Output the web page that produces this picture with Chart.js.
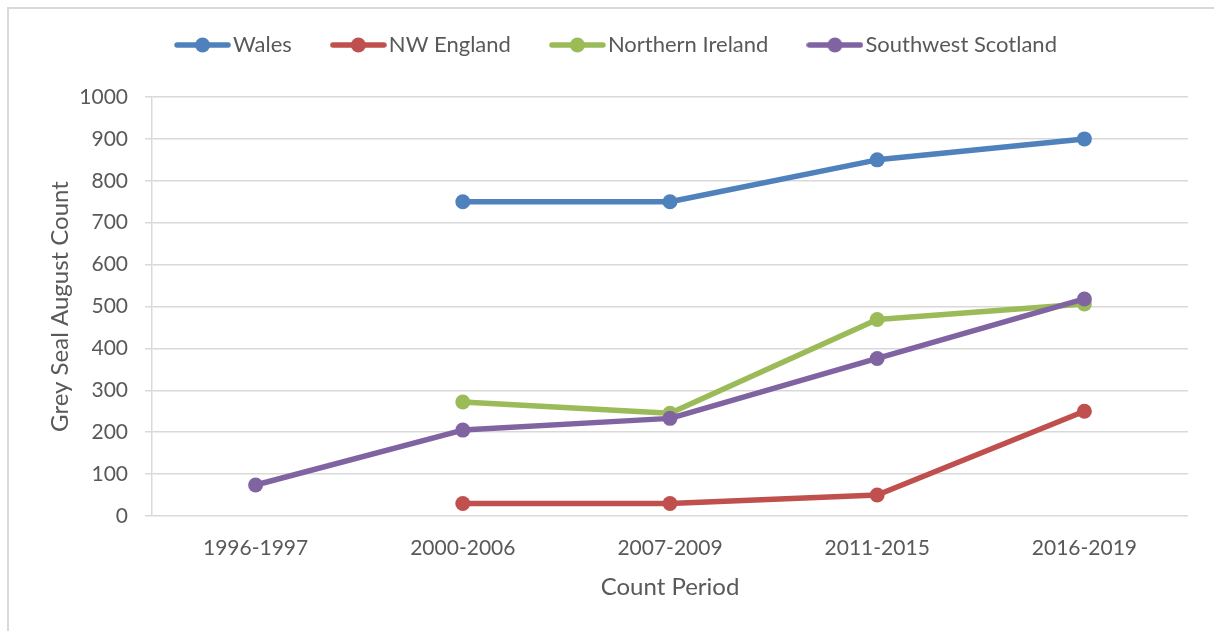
<!DOCTYPE html>
<html>
<head>
<meta charset="utf-8">
<script src="https://cdn.jsdelivr.net/npm/chart.js@4/dist/chart.umd.min.js"></script>
<style>
  html, body { margin: 0; padding: 0; background: #ffffff; }
  #wrap { position: relative; width: 1214px; height: 631px; overflow: hidden; }
  #frame { position: absolute; left: 7px; top: 7px; width: 1220px; height: 640px;
           border-top: 2px solid #d9d9d9; border-left: 2px solid #d9d9d9; box-sizing: border-box; }
  canvas { position: absolute; left: 0; top: 0; }
</style>
</head>
<body>
<div id="wrap">
  <div id="frame"></div>
  <canvas id="chart" width="1214" height="631"></canvas>
</div>
<script>
// Grey seal August counts by count period
const periods = ['1996-1997', '2000-2006', '2007-2009', '2011-2015', '2016-2019'];
const wales = [null, 750, 750, 850, 900];
const nwEngland = [null, 30, 30, 50, 250];
const northernIreland = [null, 272, 245, 469, 506];
const southwestScotland = [74, 205, 233, 376, 518];
const seriesNames = ['Wales', 'NW England', 'Northern Ireland', 'Southwest Scotland'];
const seriesColors = ['#4f81bd', '#c0504d', '#9bbb59', '#8064a2'];

const TEXT = '#595959';
const GRID = '#d9d9d9';
const FONT = 'Lato';

// line-with-marker swatches for the legend
function makeSwatch(color) {
  const c = document.createElement('canvas');
  c.width = 57; c.height = 18;
  const g = c.getContext('2d');
  g.strokeStyle = color; g.lineWidth = 5.5; g.lineCap = 'round';
  g.beginPath(); g.moveTo(3, 9); g.lineTo(54, 9); g.stroke();
  g.fillStyle = color;
  g.beginPath(); g.arc(28.5, 9, 7.5, 0, Math.PI * 2); g.fill();
  return c;
}
const swatches = seriesColors.map(makeSwatch);

// legend band height and placement
const legendBand = {
  id: 'legendBand',
  afterInit(chart) {
    const legend = chart.legend;
    const fit = legend.fit;
    legend.fit = function () { fit.call(this); this.height = 97; };
  },
  afterLayout(chart) {
    const l = chart.legend;
    l.left += 26; l.right += 26; l.top -= 13; l.bottom -= 13;
  }
};

function series(i, data, order) {
  return {
    label: seriesNames[i],
    data: data,
    borderColor: seriesColors[i],
    backgroundColor: seriesColors[i],
    pointBackgroundColor: seriesColors[i],
    pointBorderColor: seriesColors[i],
    borderWidth: 5.5,
    pointRadius: 7.5,
    pointHoverRadius: 7.5,
    pointBorderWidth: 0,
    tension: 0,
    borderJoinStyle: 'round',
    borderCapStyle: 'round',
    order: order
  };
}

new Chart(document.getElementById('chart'), {
  type: 'line',
  data: {
    labels: periods,
    datasets: [
      series(0, wales, 1),
      series(1, nwEngland, 1),
      series(2, northernIreland, 1),
      series(3, southwestScotland, 0)
    ]
  },
  plugins: [legendBand],
  options: {
    responsive: false,
    animation: false,
    devicePixelRatio: 1,
    layout: { padding: { left: 0, right: 26, top: 0, bottom: 0 } },
    plugins: {
      tooltip: { enabled: false },
      legend: {
        position: 'top',
        labels: {
          usePointStyle: true,
          pointStyleWidth: 39,
          padding: 47,
          color: TEXT,
          font: { family: FONT, size: 22 },
          sort: (a, b) => a.datasetIndex - b.datasetIndex,
          generateLabels(chart) {
            const items = Chart.defaults.plugins.legend.labels.generateLabels(chart);
            items.forEach(it => { it.pointStyle = swatches[it.datasetIndex]; });
            return items;
          }
        }
      }
    },
    scales: {
      x: {
        offset: true,
        grid: { display: false, drawTicks: false },
        border: { display: false },
        ticks: { color: TEXT, font: { family: FONT, size: 21 }, padding: 20, maxRotation: 0 },
        title: { display: true, text: 'Count Period', color: TEXT,
                 font: { family: FONT, size: 24 }, padding: { top: 12, bottom: 29 } },
        afterFit(scale) { scale.height = 115; }
      },
      y: {
        min: 0, max: 1000,
        grid: { color: GRID, lineWidth: 1.5, tickLength: 7, drawTicks: true },
        border: { display: true, color: GRID, width: 1.5 },
        ticks: { stepSize: 100, color: TEXT, font: { family: FONT, size: 21 }, padding: 17,
                 callback: v => String(v) },
        title: { display: true, text: 'Grey Seal August Count', color: TEXT,
                 font: { family: FONT, size: 24 }, padding: { top: 46, bottom: 0 } },
        afterFit(scale) { scale.width = 152; }
      }
    }
  }
});
</script>
</body>
</html>
